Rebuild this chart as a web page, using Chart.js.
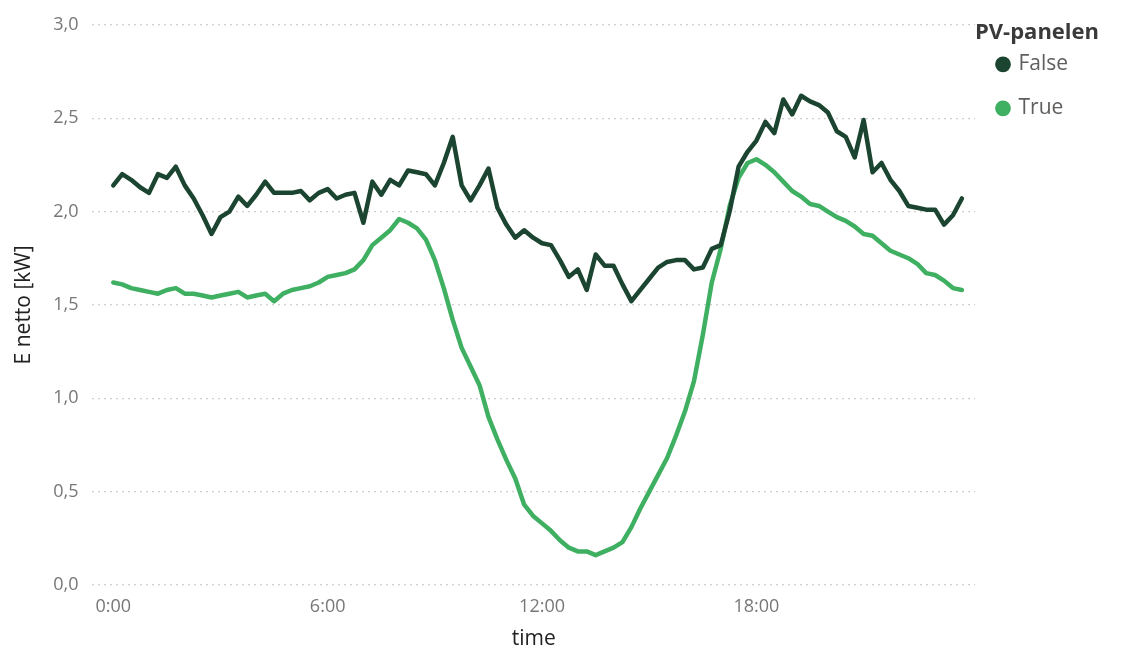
<!DOCTYPE html>
<html>
<head>
<meta charset="utf-8">
<script src="https://cdn.jsdelivr.net/npm/chart.js@4/dist/chart.umd.min.js"></script>
<style>
  html, body { margin: 0; padding: 0; background: #fff; }
  #wrap { width: 1124px; height: 650px; }
</style>
</head>
<body>
<div id="wrap"><canvas id="chart" width="1124" height="650"></canvas></div>
<script>
// quarter-hour time slots
const times = [
  '0:00','0:15','0:30','0:45','1:00','1:15','1:30','1:45','2:00','2:15','2:30','2:45',
  '3:00','3:15','3:30','3:45','4:00','4:15','4:30','4:45','5:00','5:15','5:30','5:45',
  '6:00','6:15','6:30','6:45','7:00','7:15','7:30','7:45','8:00','8:15','8:30','8:45',
  '9:00','9:15','9:30','9:45','10:00','10:15','10:30','10:45','11:00','11:15','11:30','11:45',
  '12:00','12:15','12:30','12:45','13:00','13:15','13:30','13:45','14:00','14:15','14:30','14:45',
  '15:00','15:15','15:30','15:45','16:00','16:15','16:30','16:45','17:00','17:15','17:30','17:45',
  '18:00','18:15','18:30','18:45','19:00','19:15','19:30','19:45','20:00','20:15','20:30','20:45',
  '21:00','21:15','21:30','21:45','22:00','22:15','22:30','22:45','23:00','23:15','23:30','23:45'
];

// PV-panelen = False
const eFalse = [
  2.14, 2.20, 2.17, 2.13, 2.10, 2.20, 2.18, 2.24, 2.14, 2.07, 1.98, 1.88,
  1.97, 2.00, 2.08, 2.03, 2.09, 2.16, 2.10, 2.10, 2.10, 2.11, 2.06, 2.10,
  2.12, 2.07, 2.09, 2.10, 1.94, 2.16, 2.09, 2.17, 2.14, 2.22, 2.21, 2.20,
  2.14, 2.26, 2.40, 2.14, 2.06, 2.14, 2.23, 2.02, 1.93, 1.86, 1.90, 1.86,
  1.83, 1.82, 1.74, 1.65, 1.69, 1.58, 1.77, 1.71, 1.71, 1.61, 1.52, 1.58,
  1.64, 1.70, 1.73, 1.74, 1.74, 1.69, 1.70, 1.80, 1.82, 2.00, 2.24, 2.32,
  2.38, 2.48, 2.42, 2.60, 2.52, 2.62, 2.59, 2.57, 2.53, 2.43, 2.40, 2.29,
  2.49, 2.21, 2.26, 2.17, 2.11, 2.03, 2.02, 2.01, 2.01, 1.93, 1.98, 2.07
];

// PV-panelen = True
const eTrue = [
  1.62, 1.61, 1.59, 1.58, 1.57, 1.56, 1.58, 1.59, 1.56, 1.56, 1.55, 1.54,
  1.55, 1.56, 1.57, 1.54, 1.55, 1.56, 1.52, 1.56, 1.58, 1.59, 1.60, 1.62,
  1.65, 1.66, 1.67, 1.69, 1.74, 1.82, 1.86, 1.90, 1.96, 1.94, 1.91, 1.85,
  1.74, 1.59, 1.42, 1.27, 1.17, 1.07, 0.90, 0.78, 0.67, 0.57, 0.43, 0.37,
  0.33, 0.29, 0.24, 0.20, 0.18, 0.18, 0.16, 0.18, 0.20, 0.23, 0.31, 0.41,
  0.50, 0.59, 0.68, 0.80, 0.93, 1.09, 1.34, 1.62, 1.80, 2.03, 2.18, 2.26,
  2.28, 2.25, 2.21, 2.16, 2.11, 2.08, 2.04, 2.03, 2.00, 1.97, 1.95, 1.92,
  1.88, 1.87, 1.83, 1.79, 1.77, 1.75, 1.72, 1.67, 1.66, 1.63, 1.59, 1.58
];

const xTickMinutes = [0, 360, 720, 1080];
const xTickLabels = ['0:00', '6:00', '12:00', '18:00'];
const yTickValues = [0, 0.5, 1, 1.5, 2, 2.5, 3];
const yTickLabels = ['0,0', '0,5', '1,0', '1,5', '2,0', '2,5', '3,0'];

const FONT = "'Segoe UI', 'Open Sans', sans-serif";

function toMinutes(t) {
  const [h, m] = t.split(':').map(Number);
  return h * 60 + m;
}

const seriesPoints = values => values.map((v, i) => ({ x: toMinutes(times[i]), y: v }));

// legend box is sized by its items only; widen it so the title fits
const legendWidth = {
  id: 'legendWidth',
  beforeLayout(chart, args, opts) {
    const legend = chart.legend;
    if (!legend || legend._widthPatched) return;
    const fit = legend.fit.bind(legend);
    legend.fit = () => { fit(); legend.width = opts.width; };
    legend._widthPatched = true;
  },
};

new Chart(document.getElementById('chart'), {
  type: 'line',
  plugins: [legendWidth],
  data: {
    datasets: [
      {
        label: 'False',
        data: seriesPoints(eFalse),
        borderColor: '#1b4530',
        backgroundColor: '#1b4530',
        borderWidth: 4.5, pointRadius: 0, tension: 0,
        borderJoinStyle: 'round', borderCapStyle: 'round',
      },
      {
        label: 'True',
        data: seriesPoints(eTrue),
        borderColor: '#3fb062',
        backgroundColor: '#3fb062',
        borderWidth: 4.5, pointRadius: 0, tension: 0,
        borderJoinStyle: 'round', borderCapStyle: 'round',
      },
    ],
  },
  options: {
    responsive: false,
    animation: false,
    layout: { padding: { left: 7, top: 22, right: 0, bottom: 0 } },
    plugins: {
      legendWidth: { width: 149 },
      legend: {
        position: 'right', align: 'start',
        title: {
          display: true, text: 'PV-panelen', position: 'start', color: '#3a3a3a', padding: 0,
          font: { family: FONT, size: 22, weight: 'bold', lineHeight: 0.4 },
        },
        labels: {
          usePointStyle: true, pointStyle: 'circle', boxWidth: 10, boxHeight: 8,
          padding: 23, color: '#605E5C', font: { family: FONT, size: 21 },
        },
      },
      tooltip: { enabled: false },
    },
    scales: {
      x: {
        type: 'linear', min: -35, max: 1447,
        afterBuildTicks: axis => { axis.ticks = xTickMinutes.map(v => ({ value: v })); },
        grid: { display: false, drawTicks: false },
        border: { display: false },
        ticks: {
          padding: 13, color: '#777', maxRotation: 0, font: { family: FONT, size: 18, lineHeight: 1 },
          callback: v => xTickLabels[xTickMinutes.indexOf(v)],
        },
        title: {
          display: true, text: 'time', color: '#222',
          font: { family: FONT, size: 21, lineHeight: 1 }, padding: { top: 0, bottom: 0 },
        },
      },
      y: {
        min: 0, max: 3,
        grid: { color: '#cfcfcf', lineWidth: 1.2, drawTicks: false },
        border: { display: false, dash: [2, 4] },
        ticks: {
          stepSize: 0.5, padding: 14, color: '#777', font: { family: FONT, size: 18 },
          callback: v => yTickLabels[yTickValues.indexOf(v)],
        },
        title: {
          display: true, text: 'E netto [kW]', color: '#222',
          font: { family: FONT, size: 21 }, padding: { top: 4, bottom: 3 },
        },
      },
    },
  },
});
</script>
</body>
</html>
